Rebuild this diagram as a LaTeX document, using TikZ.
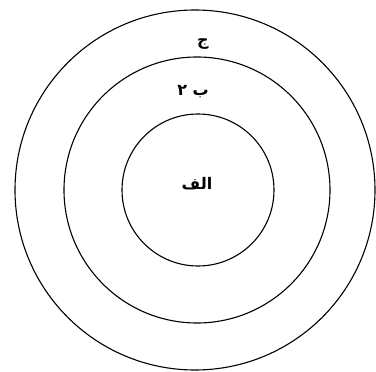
\documentclass[tikz,border=0pt]{standalone}
\usepackage{fontspec}
\TeXXeTstate=1
\newfontfamily\arabicfont[Script=Arabic]{DejaVu Sans}
\begin{document}
\begin{tikzpicture}[x=1pt,y=-1pt,
  ring/.style={draw=black, line width=1.1pt},
  lbl/.style={font=\arabicfont\bfseries\fontsize{16}{18}\selectfont, inner sep=0pt}]
\useasboundingbox (0,0) rectangle (376,372);
\draw[ring] (195,190) circle[radius=180];
\draw[ring] (197,190) circle[radius=133];
\draw[ring] (198,190) circle[radius=76];
\node[lbl] (c) at (203,44) {\beginR ج\endR};
\node[lbl] (b) at (193,92) {\beginR ب ۲\endR};
\node[lbl] (a) at (197,184) {\beginR الف\endR};
\end{tikzpicture}
\end{document}
